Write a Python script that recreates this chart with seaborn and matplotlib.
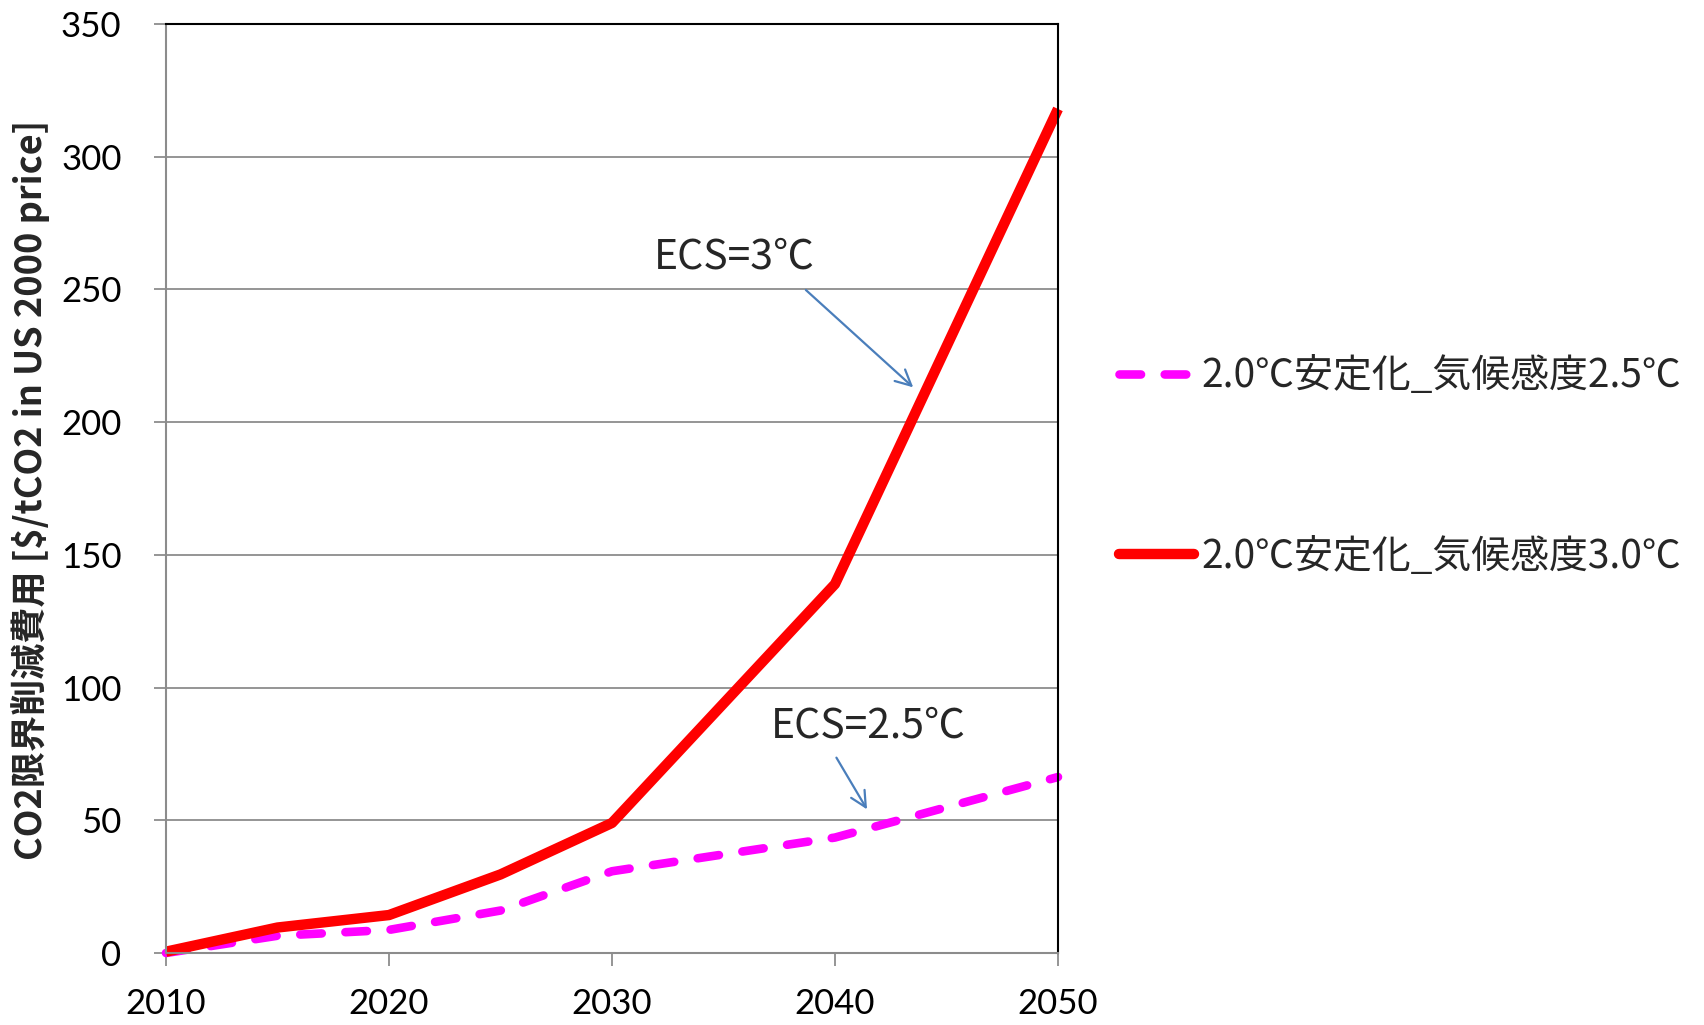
import matplotlib
matplotlib.use("Agg")
import matplotlib.pyplot as plt
import seaborn as sns
import pandas as pd

# Marginal CO2 abatement cost under 2.0°C stabilisation, two climate sensitivities
years = [2010, 2015, 2020, 2025, 2030, 2040, 2050]
cost_ecs25 = [0.0, 6.5, 8.7, 16.0, 30.8, 43.5, 66.3]
cost_ecs30 = [0.5, 9.6, 14.3, 29.6, 49.0, 139.0, 318.0]
series_names = ["2.0℃安定化_気候感度2.5℃", "2.0℃安定化_気候感度3.0℃"]
x_ticks = [2010, 2020, 2030, 2040, 2050]
y_ticks = [0, 50, 100, 150, 200, 250, 300, 350]
y_label = "CO2限界削減費用 [$/tCO2 in US 2000 price]"

df = pd.DataFrame({
    "year": years * 2,
    "cost": cost_ecs25 + cost_ecs30,
    "series": [series_names[0]] * len(years) + [series_names[1]] * len(years),
})

sns.set_theme(style="white")
plt.rcParams["font.family"] = ["Lato", "Noto Sans CJK JP", "DejaVu Sans"]
cjk = ["Noto Sans CJK JP", "DejaVu Sans"]

fig = plt.figure(figsize=(17.04, 10.25), dpi=100)
ax = fig.add_axes([166 / 1704, 1 - 953 / 1025, 892 / 1704, 929 / 1025])

widths = [6.2, 7.5]
sns.lineplot(
    data=df, x="year", y="cost", hue="series", style="series",
    palette={series_names[0]: "#FF00FF", series_names[1]: "#FF0000"},
    dashes={series_names[0]: (2.5, 2.75), series_names[1]: ""},
    hue_order=series_names, style_order=series_names,
    ax=ax, legend=True,
)
for ln, lw in zip(ax.lines, widths):
    ln.set_linewidth(lw)
    ln.set_dash_capstyle("round")
    ln.set_solid_capstyle("butt")
    ln.set_clip_on(False)

ax.set_xlim(2010, 2050)
ax.set_ylim(0, 350)
ax.set_xticks(x_ticks)
ax.set_yticks(y_ticks)
ax.grid(axis="y", color="#8C8C8C", linewidth=1.3)
ax.set_axisbelow(True)
ax.tick_params(axis="both", which="major", length=9, width=1.3, color="#8C8C8C",
               direction="out", labelsize=25, labelcolor="black")
ax.tick_params(axis="y", pad=23, left=True)
ax.tick_params(axis="x", pad=16, bottom=True)
for side in ["left", "bottom"]:
    ax.spines[side].set_color("#8C8C8C")
    ax.spines[side].set_linewidth(1.5)
for side in ["top", "right"]:
    ax.spines[side].set_color("black")
    ax.spines[side].set_linewidth(1.5)

ax.set_xlabel("")
ax.set_ylabel(y_label, fontsize=26, fontweight="bold", family=cjk)
ax.yaxis.set_label_coords(-0.130, 0.498)

# Callouts pointing at each curve
arrow_style = dict(arrowstyle="->", color="#4A7EBB", lw=1.6, mutation_scale=28)
ax.text(2035.5, 262.4, "ECS=3℃", fontsize=29.5, ha="center", va="center", family=cjk)
ax.annotate("", xy=(2043.6, 212.4), xytext=(2038.6, 250.5), arrowprops=arrow_style)
ax.text(2041.5, 85.5, "ECS=2.5℃", fontsize=29.5, ha="center", va="center", family=cjk)
ax.annotate("", xy=(2041.5, 53.2), xytext=(2040.0, 74.5), arrowprops=arrow_style)

handles, labels = ax.get_legend_handles_labels()
leg = ax.legend(handles, labels, loc="center left", bbox_to_anchor=(1.068, 0.5235),
                frameon=False, borderaxespad=0, borderpad=0,
                handlelength=1.95, handletextpad=0.18, labelspacing=3.62,
                prop={"family": cjk, "size": 28})
for lh, lw in zip(leg.get_lines(), widths):
    lh.set_linewidth(lw)
    lh.set_dash_capstyle("round")
    lh.set_solid_capstyle("round")

fig.savefig("out.png", dpi=100, facecolor="white")
